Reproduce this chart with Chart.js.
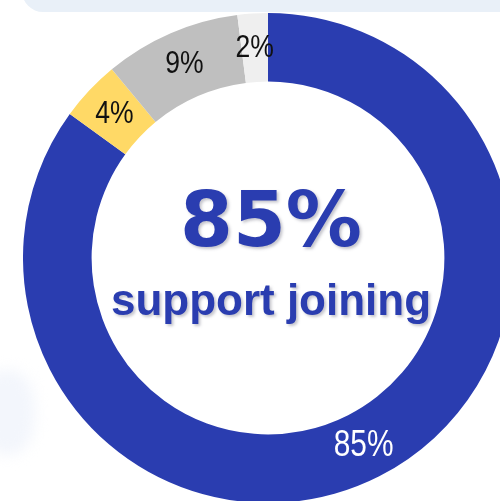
<!DOCTYPE html>
<html lang="en">
<head>
  <meta charset="UTF-8">
  <title>Support joining</title>
  <script src="https://cdn.jsdelivr.net/npm/chart.js"></script>
  <style>
    html, body { margin: 0; padding: 0; }
    body { width: 500px; height: 501px; overflow: hidden; background: #fff; position: relative; font-family: 'Liberation Sans', Arial, sans-serif; }
    .band { position: absolute; top: -30px; left: 22px; width: 520px; height: 42px; background: #e9f0f8; border-radius: 22px; }
    .smudge { position: absolute; left: -20px; top: 370px; width: 55px; height: 85px; background: #f3f6fc; border-radius: 45%; filter: blur(7px); }
    #wrap { position: absolute; left: 23px; top: 13px; width: 490px; height: 490px; }
    .big { position: absolute; left: 0; width: 542px; text-align: center; color: #2a3db0; font-weight: bold; text-shadow: 2px 2px 3px rgba(90,90,110,0.35); }
    .pct { top: 170px; font-family: 'DejaVu Sans', sans-serif; font-size: 76px; line-height: 100px; }
    .sub { top: 272px; font-family: 'Liberation Sans', Arial, sans-serif; font-size: 44px; line-height: 56px; }
  </style>
</head>
<body>
<div class="band"></div>
<div class="smudge"></div>
<div id="wrap"><canvas id="donut" width="490" height="490"></canvas></div>
<div class="big pct">85%</div>
<div class="big sub">support joining</div>

<script>
const categories = ['Support joining', 'Other', 'Oppose', 'Undecided'];
const shares = [85, 4, 9, 2];
const sliceLabels = ['85%', '4%', '9%', '2%'];
const sliceColors = ['#2a3db0', '#ffd966', '#bfbfbf', '#efefef'];
const labelColors = ['#ffffff', '#111111', '#111111', '#111111'];
const labelSizes = [36, 32, 32, 32];

const sliceLabelPlugin = {
  id: 'sliceLabels',
  afterDatasetsDraw(chart) {
    const c = chart.ctx;
    const meta = chart.getDatasetMeta(0);
    meta.data.forEach((arc, i) => {
      const p = arc.tooltipPosition();
      c.save();
      c.translate(p.x, p.y);
      c.scale(0.83, 1);
      c.font = labelSizes[i] + 'px "Liberation Sans", Arial, sans-serif';
      c.textAlign = 'center';
      c.textBaseline = 'middle';
      c.fillStyle = labelColors[i];
      c.fillText(sliceLabels[i], 0, 0);
      c.restore();
    });
  }
};

new Chart(document.getElementById('donut').getContext('2d'), {
  type: 'doughnut',
  data: {
    labels: categories,
    datasets: [{
      data: shares,
      backgroundColor: sliceColors,
      borderWidth: 0,
      hoverOffset: 0
    }]
  },
  options: {
    responsive: false,
    animation: false,
    cutout: '72%',
    plugins: { legend: { display: false }, tooltip: { enabled: false } }
  },
  plugins: [sliceLabelPlugin]
});
</script>
</body>
</html>
